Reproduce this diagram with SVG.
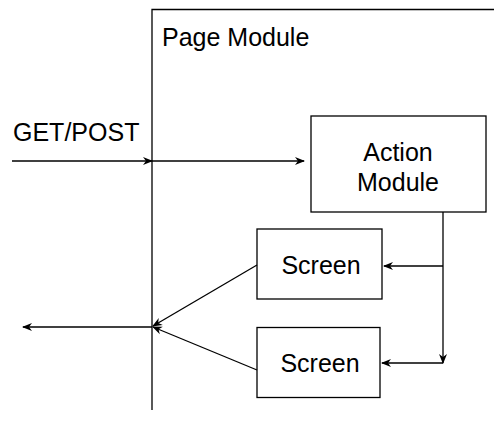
<svg xmlns="http://www.w3.org/2000/svg" width="494" height="438" viewBox="0 0 494 438">
<style>
.ln{fill:none;stroke:#000;stroke-width:1.3}
.bx{fill:#fff;stroke:#000;stroke-width:1.3}
.t{font-family:"Liberation Sans",Arial,sans-serif;font-size:25px;fill:#000}
</style>
<defs>
<marker id="ar" viewBox="0 0 10 10" refX="9" refY="5" markerWidth="10" markerHeight="10" markerUnits="userSpaceOnUse" orient="auto">
<path d="M0,1 L10,5 L0,9 L3,5 Z" fill="#000"/>
</marker>
</defs>
<g id="page-module">
<path class="ln" d="M152,410 V9.5 H494"/>
<text class="t" x="162" y="46">Page Module</text>
</g>
<g id="action-module">
<rect class="bx" x="311" y="116" width="175" height="96"/>
<text class="t" x="398" y="161" text-anchor="middle">Action</text>
<text class="t" x="398" y="191" text-anchor="middle">Module</text>
</g>
<g id="screen1">
<rect class="bx" x="257" y="229" width="125" height="70"/>
<text class="t" x="321" y="274" text-anchor="middle">Screen</text>
</g>
<g id="screen2">
<rect class="bx" x="257" y="327.5" width="123" height="70"/>
<text class="t" x="320" y="372" text-anchor="middle">Screen</text>
</g>
<g id="get-post">
<text class="t" x="13" y="141">GET/POST</text>
</g>
<g id="connectors">
<line class="ln" x1="12" y1="161" x2="152" y2="161" marker-end="url(#ar)"/>
<line class="ln" x1="152" y1="161" x2="304" y2="161" marker-end="url(#ar)"/>
<line class="ln" x1="443" y1="212" x2="443" y2="363" marker-end="url(#ar)"/>
<line class="ln" x1="443" y1="266" x2="384" y2="266" marker-end="url(#ar)"/>
<line class="ln" x1="443" y1="363" x2="382" y2="363" marker-end="url(#ar)"/>
<line class="ln" x1="257" y1="265" x2="153" y2="326" marker-end="url(#ar)"/>
<line class="ln" x1="257" y1="370" x2="153" y2="327" marker-end="url(#ar)"/>
<line class="ln" x1="152" y1="327" x2="23" y2="327" marker-end="url(#ar)"/>
</g>
</svg>
